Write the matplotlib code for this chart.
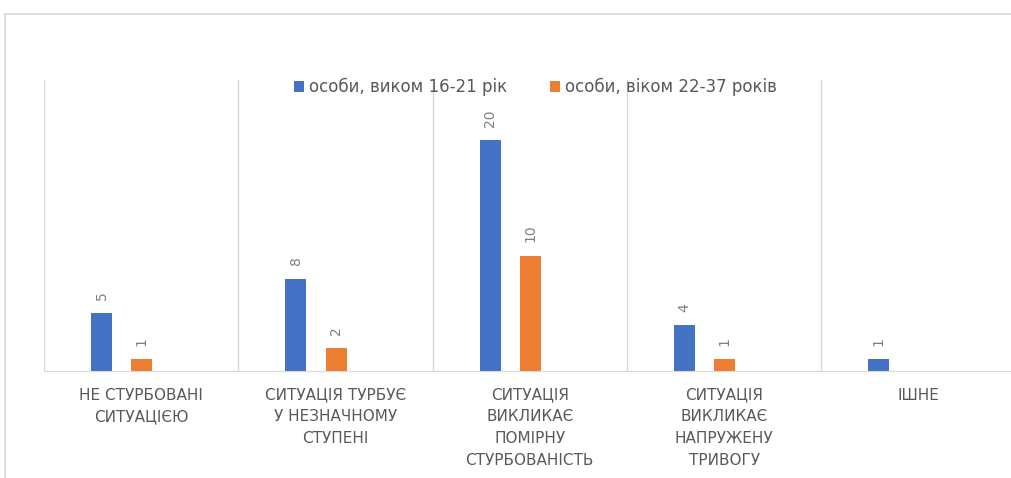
import numpy as np
import matplotlib.pyplot as plt
from matplotlib.lines import Line2D
from matplotlib.font_manager import FontProperties

# категорії та значення
categories = [
    "НЕ СТУРБОВАНІ\nСИТУАЦІЄЮ",
    "СИТУАЦІЯ ТУРБУЄ\nУ НЕЗНАЧНОМУ\nСТУПЕНІ",
    "СИТУАЦІЯ\nВИКЛИКАЄ\nПОМІРНУ\nСТУРБОВАНІСТЬ",
    "СИТУАЦІЯ\nВИКЛИКАЄ\nНАПРУЖЕНУ\nТРИВОГУ",
    "ІШНЕ",
]
young = [5, 8, 20, 4, 1]
older = [1, 2, 10, 1, np.nan]
series_names = ["особи, виком 16-21 рік", "особи, віком 22-37 років"]

blue = "#4472c4"
orange = "#ed7d31"
grid_col = "#d9d9d9"
text_col = "#595959"

plt.rcParams['font.family'] = ['DejaVu Sans']

fig = plt.figure(figsize=(10.12, 4.78), dpi=100)
ax = fig.add_axes([44 / 1012, 107 / 478, (1015.5 - 44) / 1012, (371 - 80) / 478])

x = np.arange(len(categories))
w = 0.108
b1 = ax.bar(x + 0.296, young, width=w, color=blue, label=series_names[0])
b2 = ax.bar(x + 0.504, np.nan_to_num(older), width=w, color=orange, label=series_names[1])
for i, v in enumerate(older):
    if np.isnan(v):
        b2[i].set_visible(False)

# підписи значень
for bars, vals in ((b1, young), (b2, older)):
    for rect, v in zip(bars, vals):
        if np.isnan(v):
            continue
        ax.annotate(f"{int(v)}", (rect.get_x() + rect.get_width() / 2, v),
                    xytext=(0, 9.5), textcoords="offset points",
                    rotation=90, ha="center", va="bottom",
                    fontsize=10, color="#7f7f7f")

ax.set_xlim(0, len(categories))
ax.set_ylim(0, 25.2)
ax.set_yticks([])
ax.set_xticks(x + 0.5)
ax.set_xticklabels(categories, fontsize=11, color=text_col, linespacing=1.56)
ax.tick_params(axis="x", length=0, pad=12)
for xv in range(len(categories)):
    ax.axvline(xv, color=grid_col, lw=1, zorder=0)
for s in ["top", "right", "left"]:
    ax.spines[s].set_visible(False)
ax.spines["bottom"].set_color(grid_col)

# рамка діаграми
fig.add_artist(Line2D([5 / 1012, 1], [1 - 14 / 478, 1 - 14 / 478], color=grid_col, lw=1.2))
fig.add_artist(Line2D([5 / 1012, 5 / 1012], [0, 1 - 14 / 478], color=grid_col, lw=1.2))

legend_font = FontProperties(family=['Liberation Sans Narrow', 'DejaVu Sans'], size=12)
fig.legend(loc="center", bbox_to_anchor=(535.5 / 1012, 1 - 87 / 478), ncol=2,
           frameon=False, prop=legend_font, labelcolor=text_col,
           handlelength=0.6, handleheight=0.6, handletextpad=0.3,
           columnspacing=2.6)

fig.savefig("out.png", dpi=100)
